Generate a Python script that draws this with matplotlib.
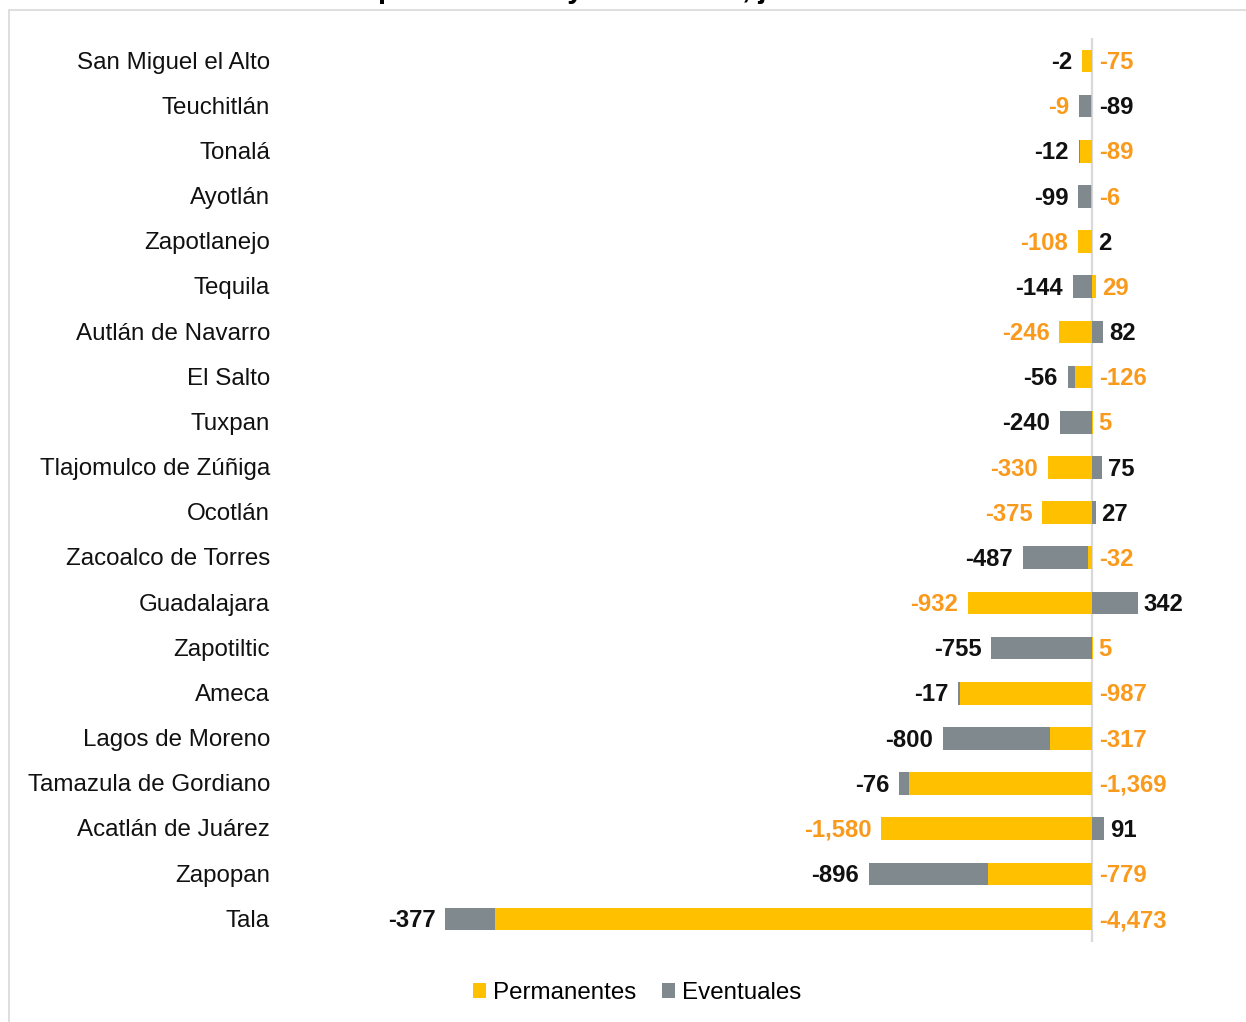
import matplotlib
matplotlib.use("Agg")
import matplotlib.pyplot as plt
from matplotlib.patches import Patch, Rectangle

# datos por municipio (de arriba hacia abajo)
municipios = ["San Miguel el Alto", "Teuchitlán", "Tonalá", "Ayotlán", "Zapotlanejo",
              "Tequila", "Autlán de Navarro", "El Salto", "Tuxpan", "Tlajomulco de Zúñiga",
              "Ocotlán", "Zacoalco de Torres", "Guadalajara", "Zapotiltic", "Ameca",
              "Lagos de Moreno", "Tamazula de Gordiano", "Acatlán de Juárez", "Zapopan", "Tala"]
permanentes = [-75, -9, -89, -6, -108, 29, -246, -126, 5, -330,
               -375, -32, -932, 5, -987, -317, -1369, -1580, -779, -4473]
eventuales = [-2, -89, -12, -99, 2, -144, 82, -56, -240, 75,
              27, -487, 342, -755, -17, -800, -76, 91, -896, -377]
series = ["Permanentes", "Eventuales"]
titulo = "permanentes y eventuales, julio"
# filas donde las etiquetas vienen intercambiadas en el original
etiqueta_invertida = {"Teuchitlán"}

AMARILLO = "#FFC000"
GRIS = "#7F898E"
NARANJA = "#F99A1C"
NEGRO = "#111111"
FUENTE = "Liberation Sans"

plt.rcParams["font.family"] = [FUENTE, "DejaVu Sans"]

W, H = 1246, 1022
fig = plt.figure(figsize=(W / 100, H / 100), dpi=100)

# marco del area del grafico
fig.add_artist(Rectangle((9 / W, -0.05), 1.2, (H - 10) / H + 0.05,
                         transform=fig.transFigure, fill=False,
                         edgecolor="#D9D9D9", linewidth=1.2))

# titulo cortado arriba: solo se ven los trazos descendentes
fig.text(378 / W, (H + 2) / H, titulo, ha="left", va="baseline",
         fontsize=21, fontweight="bold", color="black")

ax = fig.add_axes([280 / W, 80.4 / H, (W - 280) / W, 903.2 / H])
escala = 0.1334  # px por unidad
ax.set_xlim(-(1092 - 280) / escala, (W - 1092) / escala)
ax.set_ylim(len(municipios) - 0.5, -0.5)
ax.axis("off")

ax.axvline(0, color="#D9D9D9", lw=1.6, zorder=1)

for i, nombre in enumerate(municipios):
    p = permanentes[i]
    e = eventuales[i]
    # apilado: permanentes junto al eje, eventuales despues
    ax.barh(i, p, height=0.5, color=AMARILLO, zorder=2)
    if (e < 0) == (p < 0):
        inicio = p
    else:
        inicio = 0
    ax.barh(i, e, left=inicio, height=0.5, color=GRIS, zorder=2)

    segs = [(p, 0, NARANJA), (e, inicio, NEGRO)]
    negativos = [s for s in segs if s[0] < 0]
    # el segmento mas a la izquierda lleva la etiqueta a la izquierda
    izq = min(segs, key=lambda s: s[1] + s[0] if s[0] < 0 else 0)
    der = segs[1] if izq is segs[0] else segs[0]
    if not negativos:
        izq, der = segs[0], segs[1]
    x_izq = izq[1] + izq[0]
    if der[0] > 0:
        x_der = der[1] + der[0]
        off_der = 6
    else:
        x_der = 0
        off_der = 7
    col_izq, col_der = izq[2], der[2]
    txt_izq, txt_der = izq[0], der[0]
    if nombre in etiqueta_invertida:
        txt_izq, txt_der = txt_der, txt_izq
        col_izq, col_der = col_der, col_izq
    ax.annotate(f"{txt_izq:,}", (x_izq, i), xytext=(-7, -1.2), textcoords="offset points",
                ha="right", va="center", fontsize=17.2, fontweight="bold", color=col_izq)
    ax.annotate(f"{txt_der:,}", (x_der, i), xytext=(off_der * 0.72, -1.2), textcoords="offset points",
                ha="left", va="center", fontsize=17.2, fontweight="bold", color=col_der)

    ax.annotate(nombre, (-(1092 - 270) / escala, i), xytext=(0, -1.2), textcoords="offset points",
                ha="right", va="center", fontsize=17.4, color=NEGRO, annotation_clip=False)

handles = [Patch(facecolor=AMARILLO, label=series[0]), Patch(facecolor=GRIS, label=series[1])]
fig.legend(handles=handles, loc="center", bbox_to_anchor=(637 / W, 1 - 993 / H), ncol=2,
           frameon=False, fontsize=17.4, handlelength=0.55, handleheight=0.55,
           handletextpad=0.3, columnspacing=1.05, borderpad=0)

fig.savefig("out.png", dpi=100)
